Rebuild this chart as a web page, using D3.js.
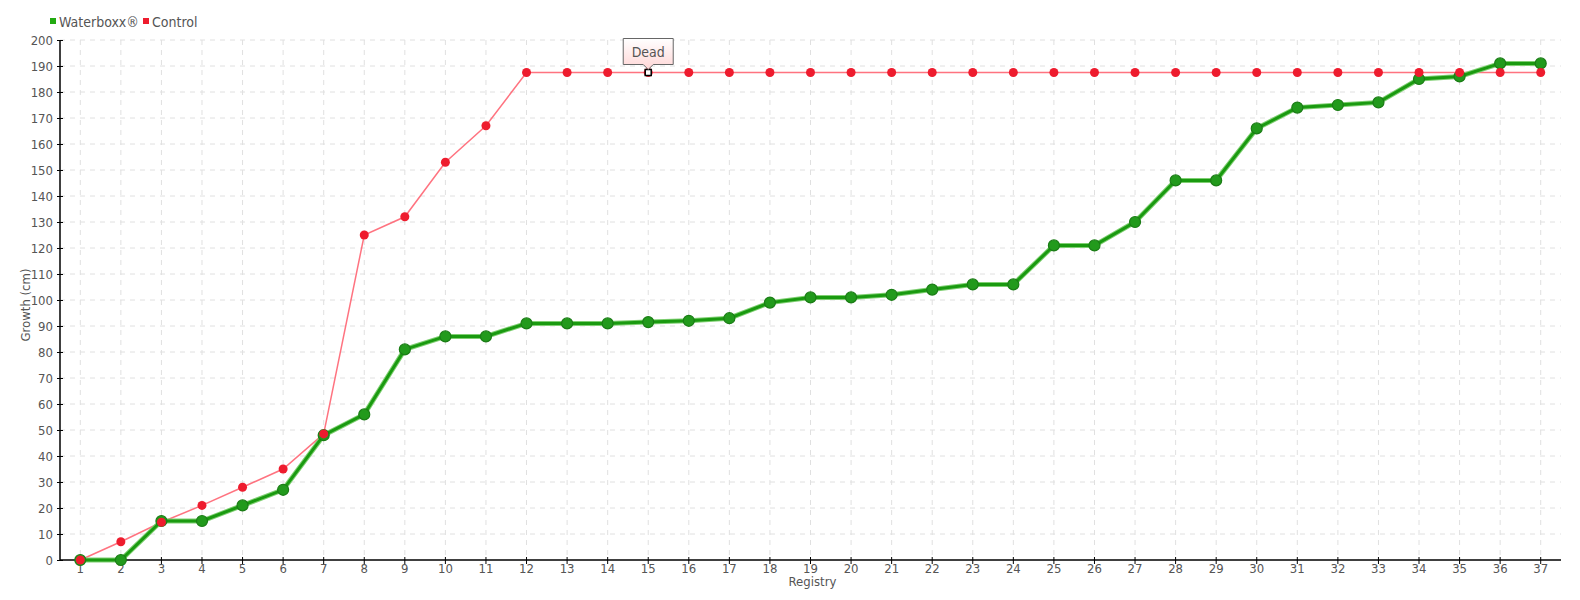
<!DOCTYPE html>
<html><head><meta charset="utf-8">
<script src="https://cdn.jsdelivr.net/npm/d3@7"></script>
<style>
body{margin:0;background:#fff;}
text{font-family:"DejaVu Sans Condensed","DejaVu Sans",sans-serif;fill:#555;}
</style></head><body>
<svg id="c" width="1580" height="600"></svg>
<script>
const categories = d3.range(1, 38).map(String);
const waterboxx = [0,0,15,15,21,27,48,56,81,86,86,91,91,91,91.5,92,93,99,101,101,102,104,106,106,121,121,130,146,146,166,174,175,176,185,186,191,191];
const control = [0,7,14.5,21,28,35,48.5,125,132,153,167,187.5,187.5,187.5,187.5,187.5,187.5,187.5,187.5,187.5,187.5,187.5,187.5,187.5,187.5,187.5,187.5,187.5,187.5,187.5,187.5,187.5,187.5,187.5,187.5,187.5,187.5];
const yTicks = d3.range(0, 201, 10);
const seriesNames = ["Waterboxx®", "Control"];
const annotation = {category: "15", label: "Dead"};

const svg = d3.select("#c");
const L = 60, R = 1561, T = 40, B = 560;
const x = d3.scaleBand().domain(categories).range([L, R]);
const cx = d => x(d) + x.bandwidth()/2;
const y = d3.scaleLinear().domain([0, 200]).range([B, T]);

// grid
const g = svg.append("g");
g.selectAll(".hg").data(yTicks.slice(1)).enter().append("line")
  .attr("x1", L).attr("x2", R).attr("y1", d=>y(d)).attr("y2", d=>y(d))
  .attr("stroke", "#e0e0e0").attr("stroke-dasharray", "5,5");
g.selectAll(".vg").data(categories).enter().append("line")
  .attr("x1", d=>cx(d)).attr("x2", d=>cx(d)).attr("y1", T).attr("y2", B)
  .attr("stroke", "#e0e0e0").attr("stroke-dasharray", "5,5");

// axes
const yAxis = svg.append("g").attr("transform", `translate(${L},0)`)
  .call(d3.axisLeft(y).tickValues(yTicks).tickSize(3).tickPadding(4).tickFormat(d3.format("d")));
yAxis.select(".domain").attr("d", `M0,${T}V${B}`).attr("stroke", "#000").attr("stroke-width", 1.5);
yAxis.selectAll(".tick line").attr("x1", 3).attr("x2", -3).attr("stroke", "#000");
yAxis.selectAll("text").style("font-size", "13px").attr("fill", "#555");

const xAxis = svg.append("g").attr("transform", `translate(0,${B})`)
  .call(d3.axisBottom(x).tickSize(3).tickPadding(1));
xAxis.select(".domain").attr("d", `M${L},0H${R}`).attr("stroke", "#000").attr("stroke-width", 1.5);
xAxis.selectAll(".tick line").attr("y1", -3).attr("y2", 4).attr("stroke", "#000");
xAxis.selectAll("text").style("font-size", "13px").attr("fill", "#555");

svg.append("text").attr("transform", `translate(30,${(T+B)/2+5}) rotate(-90)`)
  .attr("text-anchor", "middle").style("font-size", "13px").text("Growth (cm)");
svg.append("text").attr("x", (L+R)/2 + 2).attr("y", 586)
  .attr("text-anchor", "middle").style("font-size", "13px").text("Registry");

// lines
const line = d3.line().x((d,i)=>cx(categories[i])).y(d=>y(d));
svg.append("path").datum(control).attr("d", line).attr("fill", "none")
  .attr("stroke", "#ff5a6a").attr("stroke-width", 1.5).attr("stroke-opacity", 0.85);
svg.append("path").datum(waterboxx).attr("d", line).attr("fill", "none")
  .attr("stroke", "#7fcf72").attr("stroke-width", 5);
svg.append("path").datum(waterboxx).attr("d", line).attr("fill", "none")
  .attr("stroke", "#1a9a10").attr("stroke-width", 3);

svg.selectAll(".gp").data(waterboxx).enter().append("circle")
  .attr("cx", (d,i)=>cx(categories[i])).attr("cy", d=>y(d)).attr("r", 5.5)
  .attr("fill", "#229a1c").attr("stroke", "#1b7d16").attr("stroke-width", 1.2);
svg.selectAll(".rp").data(control).enter().append("circle")
  .attr("cx", (d,i)=>cx(categories[i])).attr("cy", d=>y(d)).attr("r", 4.5)
  .attr("fill", "#ee1c2e");

// annotation
const ai = categories.indexOf(annotation.category);
const ax = cx(annotation.category), ay = y(control[ai]);
svg.append("rect").attr("x", ax-3).attr("y", ay-3).attr("width", 6).attr("height", 6)
  .attr("fill", "#fff").attr("stroke", "#000").attr("stroke-width", 1.5);
const defs = svg.append("defs");
const grad = defs.append("linearGradient").attr("id", "tg").attr("x1", 0).attr("x2", 0).attr("y1", 0).attr("y2", 1);
grad.append("stop").attr("offset", "0%").attr("stop-color", "#ffffff");
grad.append("stop").attr("offset", "100%").attr("stop-color", "#ffd6d6");
const bw = 50, bh = 26, bt = ay - 34;
svg.append("path")
  .attr("d", `M${ax-bw/2},${bt} H${ax+bw/2} V${bt+bh} H${ax+5} L${ax},${bt+bh+5} L${ax-5},${bt+bh} H${ax-bw/2} Z`)
  .attr("fill", "url(#tg)").attr("stroke", "#666").attr("stroke-width", 1);
svg.append("text").attr("x", ax).attr("y", bt+18).attr("text-anchor", "middle")
  .style("font-size", "14px").text(annotation.label);

// legend
const colors = ["#22aa11", "#ee1c2e"];
const lx = [50, 143];
seriesNames.forEach((n, i) => {
  svg.append("rect").attr("x", lx[i]).attr("y", 18).attr("width", 6).attr("height", 6).attr("fill", colors[i]);
  svg.append("text").attr("x", lx[i]+9).attr("y", 27).style("font-size", "14px").text(n);
});
</script>
</body></html>
